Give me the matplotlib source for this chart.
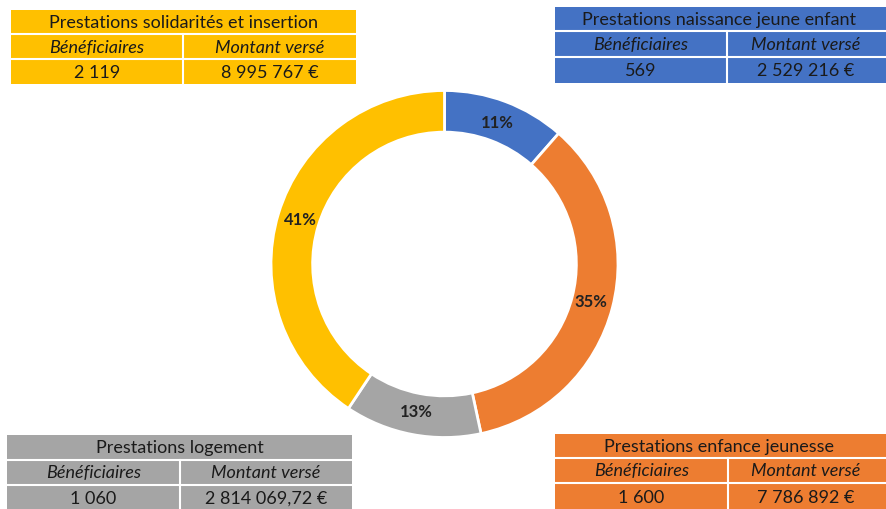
import matplotlib
matplotlib.use("Agg")
import matplotlib.pyplot as plt
from matplotlib.patches import Rectangle
import numpy as np

plt.rcParams['font.family'] = ['Lato', 'DejaVu Sans']

# Data
categories = ["Prestations naissance jeune enfant", "Prestations enfance jeunesse",
              "Prestations logement", "Prestations solidarités et insertion"]
beneficiaires = ["569", "1 600", "1 060", "2 119"]
montants_label = ["2 529 216 €", "7 786 892 €", "2 814 069,72 €", "8 995 767 €"]
montants = [2529216, 7786892, 2814069.72, 8995767]
colors = ["#4472C4", "#ED7D31", "#A5A5A5", "#FFC000"]
col_headers = ["Bénéficiaires", "Montant versé"]

W, H = 886, 509
fig = plt.figure(figsize=(W / 100, H / 100), dpi=100)
fig.patch.set_facecolor("white")

# Donut
cx, cy, r = 444.5, 264, 173.5
ax = fig.add_axes([(cx - r) / W, (H - cy - r) / H, 2 * r / W, 2 * r / H])
total = sum(montants)
wedges, _ = ax.pie(montants, colors=colors, startangle=90, counterclock=False,
                   radius=1.0, wedgeprops=dict(width=0.24, edgecolor="white", linewidth=2))
ang = 90.0
for v in montants:
    span = v / total * 360
    mid = np.deg2rad(ang - span / 2)
    ang -= span
    rr = 0.87
    ax.text(rr * np.cos(mid), rr * np.sin(mid), f"{round(v / total * 100):.0f}%",
            ha="center", va="center", fontsize=12, fontweight="bold", color="#222222")
ax.set_xlim(-1, 1)
ax.set_ylim(-1, 1)
ax.set_aspect("equal")
ax.axis("off")

# Tables overlay
tax = fig.add_axes([0, 0, 1, 1], zorder=-1)
tax.set_xlim(0, W)
tax.set_ylim(H, 0)
tax.axis("off")

tables = {
    0: (555, 888, 727, [7, 31, 57, 83]),
    1: (555, 888, 728, [434, 458, 483, 511]),
    2: (7, 352, 180, [435, 460, 485, 511]),
    3: (11, 356, 183, [10, 34, 59, 84]),
}
fs = 13
for i, (l, rgt, sp, rows) in tables.items():
    c = colors[i]
    tax.add_patch(Rectangle((l, rows[0]), rgt - l, rows[3] - rows[0], facecolor=c, edgecolor="none"))
    for yb in rows[1:3]:
        tax.plot([l, rgt], [yb, yb], color="white", lw=1.5)
    tax.plot([sp, sp], [rows[1], rows[3]], color="white", lw=1.5)
    tc = "#1a1a1a"
    rr_ = rgt if rgt < 880 else 884
    tax.text((l + rr_) / 2, (rows[0] + rows[1]) / 2 + 1, categories[i],
             ha="center", va="center", fontsize=fs, color=tc)
    lm = (l + sp) / 2
    rm = (sp + rr_) / 2
    tax.text(lm, (rows[1] + rows[2]) / 2 + 1, col_headers[0], ha="center", va="center",
             fontsize=fs, style="italic", color=tc)
    tax.text(rm, (rows[1] + rows[2]) / 2 + 1, col_headers[1], ha="center", va="center",
             fontsize=fs, style="italic", color=tc)
    tax.text(lm, (rows[2] + rows[3]) / 2 + 1, beneficiaires[i], ha="center", va="center",
             fontsize=fs, color=tc)
    tax.text(rm, (rows[2] + rows[3]) / 2 + 1, montants_label[i], ha="center", va="center",
             fontsize=fs, color=tc)

fig.savefig("out.png", dpi=100, facecolor="white")
